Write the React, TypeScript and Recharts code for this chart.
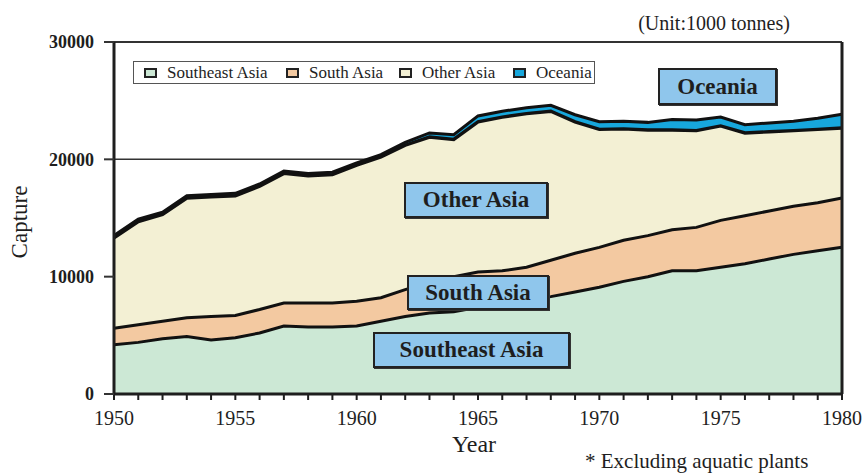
import React from 'react';
import { AreaChart, Area, XAxis, YAxis, CartesianGrid, ReferenceLine } from 'recharts';

const years = [1950, 1951, 1952, 1953, 1954, 1955, 1956, 1957, 1958, 1959, 1960, 1961, 1962, 1963, 1964, 1965, 1966, 1967, 1968, 1969, 1970, 1971, 1972, 1973, 1974, 1975, 1976, 1977, 1978, 1979, 1980];
const southeastAsia = [4200, 4400, 4700, 4900, 4600, 4800, 5200, 5800, 5700, 5700, 5800, 6200, 6600, 6900, 7000, 7400, 7700, 8000, 8300, 8700, 9100, 9600, 10000, 10500, 10500, 10800, 11100, 11500, 11900, 12200, 12500];
const southAsia = [1400, 1500, 1500, 1600, 2000, 1900, 2000, 1950, 2050, 2050, 2100, 2000, 2300, 2600, 3000, 3000, 2800, 2800, 3100, 3300, 3400, 3500, 3500, 3500, 3700, 4000, 4100, 4100, 4100, 4100, 4200];
const otherAsia = [7700, 8800, 9100, 10200, 10200, 10200, 10500, 11050, 10850, 10950, 11600, 12000, 12300, 12400, 11700, 12800, 13100, 13100, 12700, 11200, 10050, 9500, 9000, 8500, 8250, 8050, 7050, 6750, 6450, 6250, 5970];
const oceania = [200, 200, 200, 200, 200, 200, 200, 200, 200, 200, 200, 200, 250, 350, 400, 500, 500, 500, 500, 600, 650, 650, 650, 900, 900, 750, 700, 750, 800, 950, 1180];

const seriesKeys = ['southeastAsia', 'southAsia', 'otherAsia', 'oceania'];
const seriesNames = ['Southeast Asia', 'South Asia', 'Other Asia', 'Oceania'];
const yTicks = [0, 10000, 20000, 30000];
const xLabelYears = [1950, 1955, 1960, 1965, 1970, 1975, 1980];

const data = years.map((year, i) => ({
  year,
  southeastAsia: southeastAsia[i],
  southAsia: southAsia[i],
  otherAsia: otherAsia[i],
  oceania: oceania[i],
}));

const FILLS = ['#cce8d5', '#f3c9a1', '#f3f0d4', '#17a7dc'];
const LINE_W = [3, 3, 3.4, 3];
const LEGEND_X = [10, 152, 265, 379];
const SERIF = '"Liberation Serif", "DejaVu Serif", "Times New Roman", serif';
const INK = '#1e1e1e';

function XTick(props: any) {
  const { x, y, payload } = props;
  if (!xLabelYears.includes(payload.value)) return null;
  return (
    <text x={x} y={y} dy={23} textAnchor="middle" fontFamily={SERIF} fontSize={20} fill={INK}>
      {payload.value}
    </text>
  );
}

const boxes = [
  { text: 'Oceania', left: 658, top: 68, width: 119, height: 37 },
  { text: 'Other Asia', left: 404, top: 182, width: 144, height: 36 },
  { text: 'South Asia', left: 407, top: 275, width: 142, height: 35 },
  { text: 'Southeast Asia', left: 373, top: 332, width: 197, height: 36 },
];

export default function App() {
  return (
    <div style={{ position: 'absolute', left: 0, top: 0, width: 865, height: 473, background: '#fff' }}>
      <AreaChart width={865} height={473} data={data} margin={{ top: 42, right: 23, bottom: 49, left: 54 }}>
        <CartesianGrid horizontal vertical={false} stroke="#333" strokeWidth={1.5} />
        <XAxis
          dataKey="year"
          type="number"
          domain={[1950, 1980]}
          ticks={years}
          interval={0}
          height={30}
          tick={<XTick />}
          tickSize={6}
          tickMargin={2}
          axisLine={{ stroke: INK, strokeWidth: 3 }}
          tickLine={{ stroke: INK, strokeWidth: 2 }}
        />
        <YAxis
          type="number"
          domain={[0, 30000]}
          ticks={yTicks}
          interval={0}
          width={60}
          tickSize={10}
          tickMargin={10}
          tick={{ fontFamily: SERIF, fontSize: 18, fontWeight: 'bold', fill: INK }}
          axisLine={{ stroke: INK, strokeWidth: 3 }}
          tickLine={{ stroke: '#333', strokeWidth: 2 }}
        />
        {seriesKeys.map((k, i) => (
          <Area
            key={'fill-' + k}
            type="linear"
            dataKey={k}
            name={seriesNames[i]}
            stackId="fill"
            fill={FILLS[i]}
            fillOpacity={1}
            stroke="none"
            dot={false}
            activeDot={false}
            isAnimationActive={false}
          />
        ))}
        {seriesKeys.map((k, i) => (
          <Area
            key={'line-' + k}
            type="linear"
            dataKey={k}
            stackId="line"
            fill="none"
            fillOpacity={0}
            stroke="#111"
            strokeWidth={LINE_W[i]}
            dot={false}
            activeDot={false}
            legendType="none"
            isAnimationActive={false}
          />
        ))}
        <ReferenceLine y={30000} stroke="#333" strokeWidth={2} />
        <ReferenceLine x={1980} stroke={INK} strokeWidth={3} />
      </AreaChart>
      <div
        style={{
          position: 'absolute',
          left: 133,
          top: 61,
          width: 460,
          height: 21,
          border: '1.5px solid #555',
          background: '#fff',
          fontFamily: SERIF,
          fontSize: 17,
          color: INK,
        }}
      >
        {seriesNames.map((n, i) => (
          <div
            key={n}
            style={{ position: 'absolute', left: LEGEND_X[i], top: 0, height: 21, display: 'flex', alignItems: 'center', whiteSpace: 'nowrap' }}
          >
            <span
              style={{
                display: 'inline-block',
                width: 9,
                height: 6,
                border: '2.5px solid #222',
                background: FILLS[i],
                marginRight: 10,
              }}
            />
            <span>{n}</span>
          </div>
        ))}
      </div>
      <svg width={865} height={473} style={{ position: 'absolute', left: 0, top: 0, pointerEvents: 'none' }}>
        <text x={714} y={30} textAnchor="middle" fontFamily={SERIF} fontSize={20} fill={INK}>
          (Unit:1000 tonnes)
        </text>
        <text x={474} y={452} textAnchor="middle" fontFamily={SERIF} fontSize={24} fill={INK}>
          Year
        </text>
        <text x={585} y={468} fontFamily={SERIF} fontSize={21} fill={INK}>
          * Excluding aquatic plants
        </text>
        <text x={27} y={222} textAnchor="middle" fontFamily={SERIF} fontSize={23} fill={INK} transform="rotate(-90, 27, 222)">
          Capture
        </text>
      </svg>
      {boxes.map((b) => (
        <div
          key={b.text}
          style={{
            position: 'absolute',
            left: b.left,
            top: b.top,
            width: b.width,
            height: b.height,
            boxSizing: 'border-box',
            background: '#8fc6ec',
            border: '2px solid #222',
            boxShadow: '1px 1px 0 #333',
            display: 'flex',
            alignItems: 'center',
            justifyContent: 'center',
            fontFamily: SERIF,
            fontWeight: 'bold',
            fontSize: 23,
            color: INK,
            pointerEvents: 'none',
          }}
        >
          {b.text}
        </div>
      ))}
    </div>
  );
}
